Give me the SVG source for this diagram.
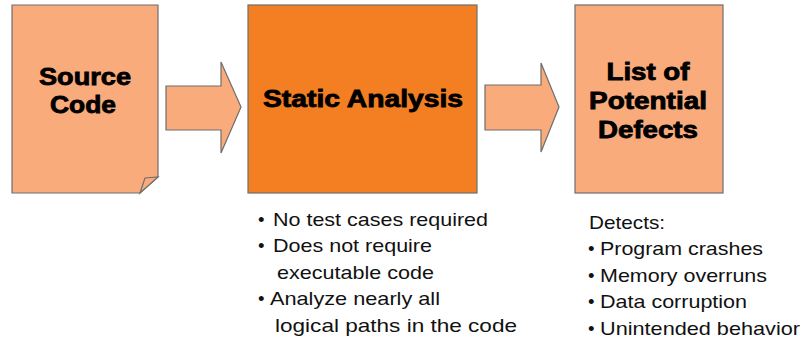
<svg xmlns="http://www.w3.org/2000/svg" width="801" height="338" viewBox="0 0 801 338">
  <style>
    .light { fill: #F9AB7C; stroke: #6E6E6E; stroke-width: 1.2; }
    .dark { fill: #F37F22; stroke: #6E6E6E; stroke-width: 1.2; }
    .title { font-family: "Liberation Sans", Arial, sans-serif; font-weight: bold; font-size: 23px; fill: #000; stroke: #000; stroke-width: 0.8; text-anchor: middle; }
    .note { font-family: "Liberation Sans", Arial, sans-serif; font-size: 18.5px; fill: #111; }
  </style>
  <rect width="801" height="338" fill="#fff"/>

  <!-- source document with folded corner -->
  <g id="source-code">
    <path class="light" d="M12,5 H158 V177 L140,193 H12 Z"/>
    <path class="light" d="M140,193 L145,178 L158,177 Z"/>
    <text class="title" x="85" y="85" textLength="92" lengthAdjust="spacingAndGlyphs">Source</text>
    <text class="title" x="83" y="113" textLength="66" lengthAdjust="spacingAndGlyphs">Code</text>
  </g>

  <g id="static-analysis">
    <rect class="dark" x="248" y="5" width="229" height="188"/>
    <text class="title" x="363" y="107" textLength="200" lengthAdjust="spacingAndGlyphs">Static Analysis</text>
    <text class="note" x="258" y="226">•</text>
    <text class="note" x="273" y="226" textLength="215" lengthAdjust="spacingAndGlyphs">No test cases required</text>
    <text class="note" x="258" y="252">•</text>
    <text class="note" x="273" y="252" textLength="159" lengthAdjust="spacingAndGlyphs">Does not require</text>
    <text class="note" x="277" y="279" textLength="157" lengthAdjust="spacingAndGlyphs">executable code</text>
    <text class="note" x="258" y="305">•</text>
    <text class="note" x="270" y="305" textLength="170" lengthAdjust="spacingAndGlyphs">Analyze nearly all</text>
    <text class="note" x="275" y="332" textLength="242" lengthAdjust="spacingAndGlyphs">logical paths in the code</text>
  </g>

  <g id="defects">
    <rect class="light" x="575" y="5" width="148" height="188"/>
    <text class="title" x="648" y="80" textLength="83" lengthAdjust="spacingAndGlyphs">List of</text>
    <text class="title" x="648" y="109" textLength="118" lengthAdjust="spacingAndGlyphs">Potential</text>
    <text class="title" x="648" y="138" textLength="100" lengthAdjust="spacingAndGlyphs">Defects</text>
    <text class="note" x="589" y="229" textLength="76" lengthAdjust="spacingAndGlyphs">Detects:</text>
    <text class="note" x="588" y="255">•</text>
    <text class="note" x="600" y="255" textLength="163" lengthAdjust="spacingAndGlyphs">Program crashes</text>
    <text class="note" x="588" y="282">•</text>
    <text class="note" x="600" y="282" textLength="167" lengthAdjust="spacingAndGlyphs">Memory overruns</text>
    <text class="note" x="588" y="308">•</text>
    <text class="note" x="600" y="308" textLength="147" lengthAdjust="spacingAndGlyphs">Data corruption</text>
    <text class="note" x="588" y="335">•</text>
    <text class="note" x="600" y="335" textLength="200" lengthAdjust="spacingAndGlyphs">Unintended behavior</text>
  </g>

  <!-- block arrows between the stages -->
  <g id="connectors">
    <path class="light" d="M166,86 H221 V62 L241,107 L221,153 V130 H166 Z"/>
    <path class="light" d="M485,85 H541 V63 L559,107 L541,152 V130 H485 Z"/>
  </g>
</svg>
